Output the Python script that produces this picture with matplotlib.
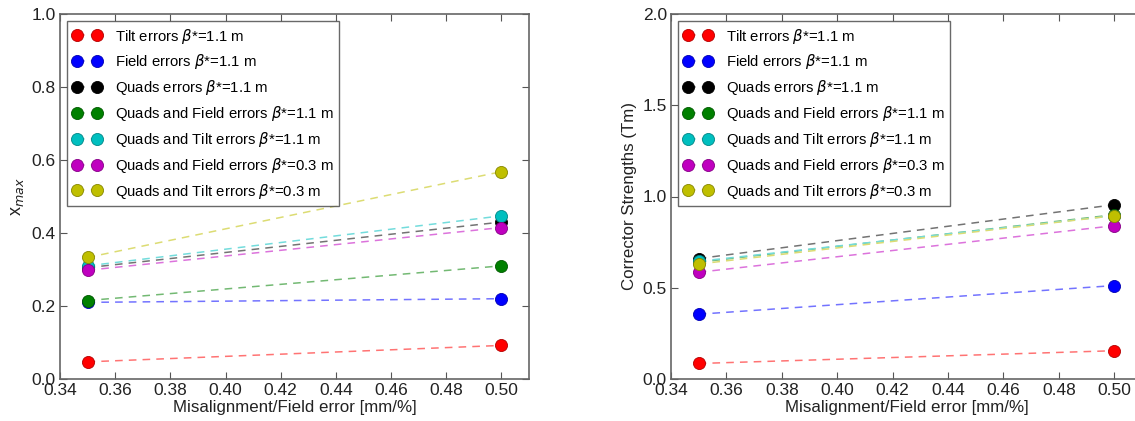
import matplotlib
matplotlib.use("Agg")
import matplotlib.pyplot as plt
from matplotlib.colors import to_rgb
import numpy as np

x = [0.35, 0.50]

labels = [r"Tilt errors $\beta$*=1.1 m",
          r"Field errors $\beta$*=1.1 m",
          r"Quads errors $\beta$*=1.1 m",
          r"Quads and Field errors $\beta$*=1.1 m",
          r"Quads and Tilt errors $\beta$*=1.1 m",
          r"Quads and Field errors $\beta$*=0.3 m",
          r"Quads and Tilt errors $\beta$*=0.3 m"]
colors = ['r', 'b', 'k', 'g', 'c', 'm', 'y']

# max orbit (left)
xmax_tilt_11 = [0.047, 0.092]
xmax_field_11 = [0.210, 0.220]
xmax_quads_11 = [0.305, 0.430]
xmax_qfield_11 = [0.215, 0.310]
xmax_qtilt_11 = [0.310, 0.447]
xmax_qfield_03 = [0.298, 0.415]
xmax_qtilt_03 = [0.333, 0.568]

# corrector strengths (right)
cs_tilt_11 = [0.085, 0.155]
cs_field_11 = [0.355, 0.512]
cs_quads_11 = [0.660, 0.955]
cs_qfield_11 = [0.640, 0.900]
cs_qtilt_11 = [0.645, 0.895]
cs_qfield_03 = [0.585, 0.840]
cs_qtilt_03 = [0.630, 0.895]

left_data = [xmax_tilt_11, xmax_field_11, xmax_quads_11, xmax_qfield_11,
             xmax_qtilt_11, xmax_qfield_03, xmax_qtilt_03]
right_data = [cs_tilt_11, cs_field_11, cs_quads_11, cs_qfield_11,
              cs_qtilt_11, cs_qfield_03, cs_qtilt_03]

plt.rcParams['font.family'] = ['Liberation Sans', 'DejaVu Sans']
plt.rcParams['mathtext.fontset'] = 'dejavusans'
plt.rcParams['xtick.direction'] = 'in'
plt.rcParams['ytick.direction'] = 'in'
plt.rcParams['xtick.top'] = True
plt.rcParams['ytick.right'] = True

fig = plt.figure(figsize=(11.35, 4.21), dpi=100)
ax1 = fig.add_axes([60/1135, 42/421, 469/1135, 365/421])
ax2 = fig.add_axes([671/1135, 42/421, 471/1135, 365/421])


def lighten(c, f=0.45):
    r = np.array(to_rgb(c))
    return tuple(r + (1 - r) * f)


def darken(c, f=0.7):
    return tuple(np.array(to_rgb(c)) * f)


for ax, data in [(ax1, left_data), (ax2, right_data)]:
    for y, c, lab in zip(data, colors, labels):
        ax.plot(x, y, '--o', color=lighten(c), mfc=c, mec=darken(c), mew=0.6,
                ms=8.7, lw=1.1, dashes=(5, 4), label=lab)
    ax.set_xlim(0.34, 0.51)
    ax.set_xticks(np.arange(0.34, 0.505, 0.02))
    ax.tick_params(labelsize=12.5, length=5, width=0.8, color='#555555',
                   labelcolor='#222222', pad=3)
    for s in ax.spines.values():
        s.set_color('#666666')
        s.set_linewidth(1.2)
    ax.set_xlabel("Misalignment/Field error [mm/%]", fontsize=12.2,
                  color='#222222', labelpad=1)
    leg = ax.legend(loc='upper left', numpoints=2, fontsize=10.7, fancybox=False,
                    labelspacing=0.46, handlelength=1.95, handletextpad=0.9,
                    borderaxespad=0.5, borderpad=0.35)
    leg.get_frame().set_edgecolor('#444444')
    leg.get_frame().set_linewidth(1.0)

ax1.set_ylim(0, 1.0)
ax1.set_yticks(np.arange(0, 1.01, 0.2))
ax1.set_ylabel(r"x$_{max}$", fontsize=13, color='#222222')

ax2.set_ylim(0, 2.0)
ax2.set_yticks(np.arange(0, 2.01, 0.5))
ax2.set_ylabel("Corrector Strengths (Tm)", fontsize=12.2, color='#222222')

fig.savefig("out.png", dpi=100)
